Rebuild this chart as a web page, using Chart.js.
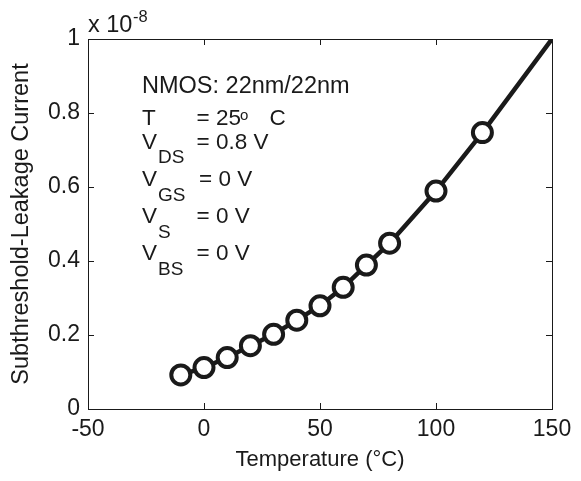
<!DOCTYPE html>
<html>
<head>
<meta charset="utf-8">
<script src="https://cdn.jsdelivr.net/npm/chart.js@4/dist/chart.umd.min.js"></script>
<style>
  html, body { margin: 0; padding: 0; background: #ffffff; }
  #wrap { width: 581px; height: 481px; }
</style>
</head>
<body>
<div id="wrap"><canvas id="chart" width="581" height="481"></canvas></div>
<script>
// Subthreshold leakage (units of 1e-8) of a 22nm/22nm NMOS versus temperature
const temperatures = [-10, 0, 10, 20, 30, 40, 50, 60, 70, 80, 100, 120];
const leakage      = [0.092, 0.112, 0.139, 0.171, 0.202, 0.240, 0.279, 0.329, 0.389, 0.448, 0.589, 0.747];
// the fitted curve continues past the last measurement to the top of the range
const curveEndTemp = 150;
const curveEndLeak = 1.0;

const xTicks = [-50, 0, 50, 100, 150];
const xTickLabels = ['-50', '0', '50', '100', '150'];
const yTicks = [0, 0.2, 0.4, 0.6, 0.8, 1];
const yTickLabels = ['0', '0.2', '0.4', '0.6', '0.8', '1'];

const FONT = '"Liberation Sans", Arial, Helvetica, sans-serif';
const INK = '#1a1a1a';

const markerPoints = temperatures.map((t, i) => ({ x: t, y: leakage[i] }));
const curvePoints = markerPoints.concat([{ x: curveEndTemp, y: curveEndLeak }]);

// box around the plot with inward ticks on all four sides
const boxAndTicks = {
  id: 'boxAndTicks',
  afterDatasetsDraw(chart) {
    const { ctx, chartArea: a, scales: { x, y } } = chart;
    const len = 6;
    ctx.save();
    ctx.strokeStyle = INK;
    ctx.lineWidth = 1;
    ctx.beginPath();
    xTicks.forEach(v => {
      const px = Math.round(x.getPixelForValue(v)) + 0.5;
      ctx.moveTo(px, a.bottom); ctx.lineTo(px, a.bottom - len);
      ctx.moveTo(px, a.top); ctx.lineTo(px, a.top + len);
    });
    yTicks.forEach(v => {
      const py = Math.round(y.getPixelForValue(v)) + 0.5;
      ctx.moveTo(a.left, py); ctx.lineTo(a.left + len, py);
      ctx.moveTo(a.right, py); ctx.lineTo(a.right - len, py);
    });
    ctx.stroke();
    ctx.strokeRect(Math.round(a.left) + 0.5, Math.round(a.top) + 0.5,
                   Math.round(a.right - a.left), Math.round(a.bottom - a.top));
    ctx.restore();
  }
};

// exponent marker and the device-condition notes
const notes = {
  id: 'notes',
  afterDraw(chart) {
    const { ctx, chartArea: a } = chart;
    const main = '22.5px ' + FONT;
    const sub = '19px ' + FONT;
    const put = (text, font, x, y) => { ctx.font = font; ctx.fillText(text, x, y); };
    ctx.save();
    ctx.fillStyle = INK;
    ctx.textBaseline = 'alphabetic';
    ctx.textAlign = 'left';

    // "x 10^-8" above the y axis
    put('x 10', '23.5px ' + FONT, a.left, a.top - 7);
    put('-8', '16.5px ' + FONT, a.left + 45, a.top - 17);

    put('NMOS: 22nm/22nm', '23.5px ' + FONT, 142, 93);

    put('T', main, 142, 125);
    put('= 25', main, 196.5, 125);
    put('o', '15px ' + FONT, 240, 120);
    put('C', main, 269.5, 125);

    const rows = [
      { s: 'DS', base: 148.5, eq: 196.5, val: '= 0.8 V' },
      { s: 'GS', base: 186,   eq: 199,   val: '= 0 V' },
      { s: 'S',  base: 223,   eq: 196.5, val: '= 0 V' },
      { s: 'BS', base: 260,   eq: 196.5, val: '= 0 V' }
    ];
    rows.forEach(r => {
      put('V', main, 142, r.base);
      put(r.s, sub, 158, r.base + 14.5);
      put(r.val, main, r.eq, r.base);
    });
    ctx.restore();
  }
};

new Chart(document.getElementById('chart'), {
  type: 'scatter',
  data: {
    datasets: [
      {
        label: 'markers',
        data: markerPoints,
        showLine: false,
        pointRadius: 9.5,
        pointHoverRadius: 9.5,
        pointBorderWidth: 4,
        pointBackgroundColor: '#ffffff',
        pointBorderColor: INK,
        order: 0
      },
      {
        label: 'curve',
        data: curvePoints,
        showLine: true,
        borderColor: INK,
        borderWidth: 4.5,
        pointRadius: 0,
        tension: 0,
        order: 1
      }
    ]
  },
  options: {
    responsive: false,
    animation: false,
    events: [],
    layout: { padding: { top: 39, right: 29, left: 0, bottom: 0 } },
    plugins: { legend: { display: false }, tooltip: { enabled: false } },
    scales: {
      x: {
        type: 'linear',
        min: -50, max: 150,
        afterFit(s) { s.height = 72; },
        afterBuildTicks(s) { s.ticks = xTicks.map(v => ({ value: v })); },
        grid: { display: false, drawTicks: false },
        border: { display: false },
        ticks: {
          color: INK, font: { family: FONT, size: 23 }, padding: 7, maxRotation: 0,
          callback: (v, i) => xTickLabels[i]
        },
        title: {
          display: true,
          text: 'Temperature (°C)',
          color: INK,
          font: { family: FONT, size: 22 },
          padding: { top: 0, bottom: 8 }
        }
      },
      y: {
        type: 'linear',
        min: 0, max: 1,
        afterFit(s) { s.width = 88; },
        afterBuildTicks(s) { s.ticks = yTicks.map(v => ({ value: v })); },
        grid: { display: false, drawTicks: false },
        border: { display: false },
        ticks: {
          color: INK, font: { family: FONT, size: 23 }, padding: 8,
          callback: (v, i) => yTickLabels[i]
        },
        title: {
          display: true,
          text: 'Subthreshold-Leakage Current',
          color: INK,
          font: { family: FONT, size: 23.5 },
          padding: { top: 7, bottom: 0 }
        }
      }
    }
  },
  plugins: [boxAndTicks, notes]
});
</script>
</body>
</html>
